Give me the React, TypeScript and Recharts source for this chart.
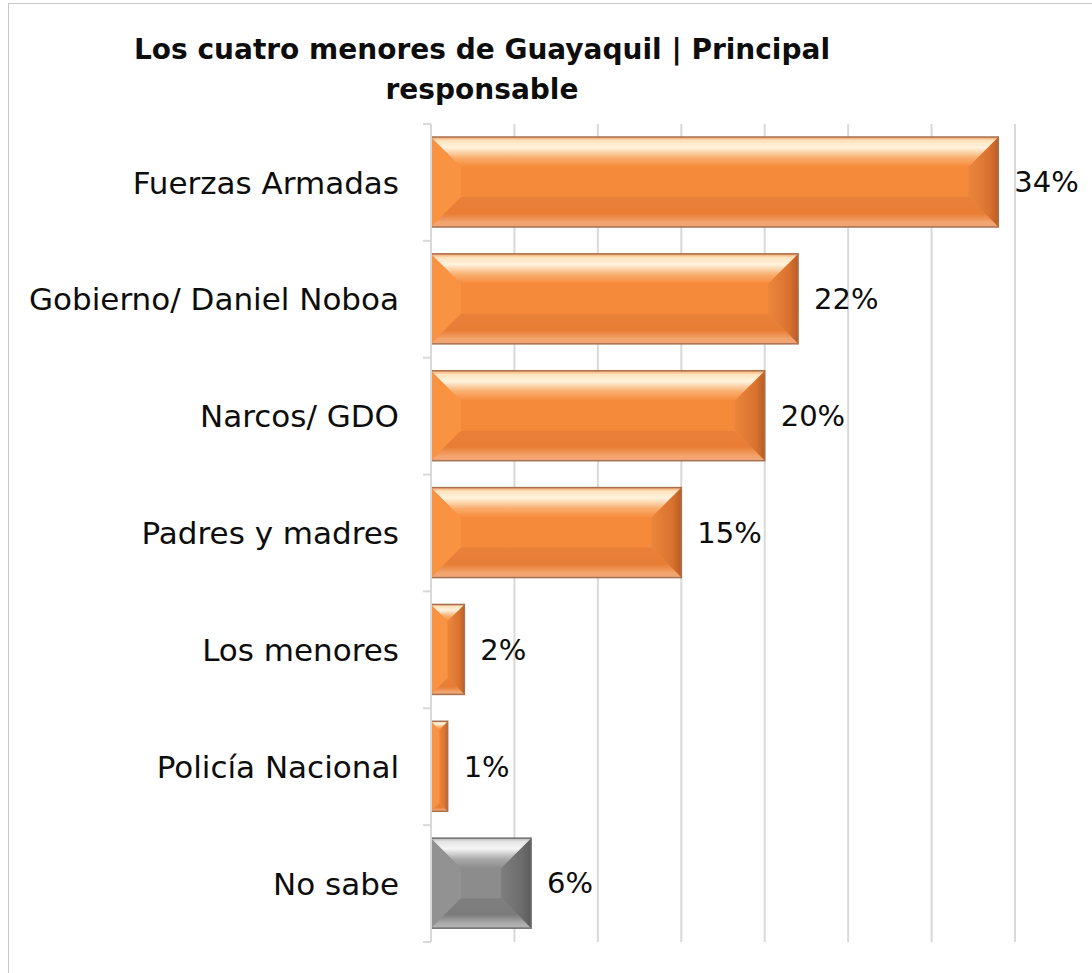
import React from 'react';
import { BarChart, Bar, XAxis, YAxis, CartesianGrid, LabelList } from 'recharts';

const categories = [
  'Fuerzas Armadas',
  'Gobierno/ Daniel Noboa',
  'Narcos/ GDO',
  'Padres y madres',
  'Los menores',
  'Policía Nacional',
  'No sabe ',
];
const values = [34, 22, 20, 15, 2, 1, 6];
const kinds = ['orange', 'orange', 'orange', 'orange', 'orange', 'orange', 'gray'];
const xTicks = [0, 5, 10, 15, 20, 25, 30, 35];

const data = categories.map((name, i) => ({ name, value: values[i], kind: kinds[i] }));

const W = 1092;
const H = 973;
const MARGIN = { top: 124, right: 77, bottom: 31, left: 0 };
const PLOT_H = H - MARGIN.top - MARGIN.bottom;
const FONT = '"DejaVu Sans", sans-serif';
const GRID = '#d9d9d9';

const palettes: Record<string, any> = {
  orange: { face: '#f68a3b', left: '#f99241', stroke: '#a87150' },
  gray: { face: '#8c8c8c', left: '#929292', stroke: '#6f6f6f' },
};

const BevelBar = (props: any) => {
  const { x, y, width, height, payload } = props;
  if (!width || width <= 0) return null;
  const k = payload.kind;
  const p = palettes[k];
  const d = Math.min(30, width / 2, height / 2);
  const r = x + width;
  const b = y + height;
  return (
    <g>
      <rect x={x} y={y} width={width} height={height} fill={p.face} />
      <polygon points={`${x},${y} ${x + d},${y + d} ${x + d},${b - d} ${x},${b}`} fill={p.left} />
      <polygon points={`${r},${y} ${r},${b} ${r - d},${b - d} ${r - d},${y + d}`} fill={`url(#right-${k})`} />
      <polygon points={`${x},${y} ${r},${y} ${r - d},${y + d} ${x + d},${y + d}`} fill={`url(#top-${k})`} />
      <polygon points={`${x + d},${b - d} ${r - d},${b - d} ${r},${b} ${x},${b}`} fill={`url(#bottom-${k})`} />
      <rect x={x} y={y} width={width} height={height} fill="none" stroke={p.stroke} strokeWidth={1.5} />
    </g>
  );
};

const CategoryTick = (props: any) => {
  const { x, y, payload, index } = props;
  const band = PLOT_H / categories.length;
  return (
    <g>
      <line x1={x - 8} x2={x} y1={y - band / 2} y2={y - band / 2} stroke={GRID} strokeWidth={2} />
      {index === categories.length - 1 && (
        <line x1={x - 8} x2={x} y1={y + band / 2} y2={y + band / 2} stroke={GRID} strokeWidth={2} />
      )}
      <text x={x - 32} y={y} dy="0.36em" textAnchor="end" fontFamily={FONT} fontSize={31} fill="#0d0d0d">
        {payload.value}
      </text>
    </g>
  );
};

export default function App() {
  return (
    <div style={{ position: 'absolute', left: 0, top: 0, width: W, height: H, overflow: 'hidden', background: '#fff' }}>
      <div
        style={{
          position: 'absolute',
          left: 8,
          top: 3,
          width: W,
          height: H + 20,
          border: '1.5px solid #c8c8c8',
          boxSizing: 'border-box',
        }}
      />
      <div
        style={{
          position: 'absolute',
          left: 0,
          top: 30,
          width: 964,
          textAlign: 'center',
          fontFamily: FONT,
          fontWeight: 'bold',
          fontSize: 28,
          lineHeight: '40px',
          color: '#0d0d0d',
        }}
      >
        Los cuatro menores de Guayaquil | Principal
        <br />
        responsable
      </div>
      <div style={{ position: 'absolute', left: 0, top: 0 }}>
        <BarChart width={W} height={H} data={data} layout="vertical" margin={MARGIN}>
          <defs>
            <linearGradient id="top-orange" x1="0" y1="0" x2="0" y2="1">
              <stop offset="0" stopColor="#f3a064" />
              <stop offset="0.12" stopColor="#fde3bd" />
              <stop offset="0.35" stopColor="#fff3dd" />
              <stop offset="0.7" stopColor="#f9ad6c" />
              <stop offset="1" stopColor="#f68a3b" />
            </linearGradient>
            <linearGradient id="bottom-orange" x1="0" y1="0" x2="0" y2="1">
              <stop offset="0" stopColor="#e9803a" />
              <stop offset="0.55" stopColor="#e87d35" />
              <stop offset="0.85" stopColor="#f3a56f" />
              <stop offset="1" stopColor="#efa577" />
            </linearGradient>
            <linearGradient id="right-orange" x1="0" y1="0" x2="1" y2="0">
              <stop offset="0" stopColor="#ec853c" />
              <stop offset="0.7" stopColor="#d9722f" />
              <stop offset="1" stopColor="#b95d25" />
            </linearGradient>
            <linearGradient id="top-gray" x1="0" y1="0" x2="0" y2="1">
              <stop offset="0" stopColor="#b5b5b5" />
              <stop offset="0.12" stopColor="#e6e6e6" />
              <stop offset="0.35" stopColor="#f5f5f5" />
              <stop offset="0.7" stopColor="#a9a9a9" />
              <stop offset="1" stopColor="#8c8c8c" />
            </linearGradient>
            <linearGradient id="bottom-gray" x1="0" y1="0" x2="0" y2="1">
              <stop offset="0" stopColor="#7f7f7f" />
              <stop offset="0.55" stopColor="#7b7b7b" />
              <stop offset="0.85" stopColor="#adadad" />
              <stop offset="1" stopColor="#b3b3b3" />
            </linearGradient>
            <linearGradient id="right-gray" x1="0" y1="0" x2="1" y2="0">
              <stop offset="0" stopColor="#7e7e7e" />
              <stop offset="0.7" stopColor="#6c6c6c" />
              <stop offset="1" stopColor="#5a5a5a" />
            </linearGradient>
          </defs>
          <CartesianGrid horizontal={false} stroke={GRID} strokeWidth={2} />
          <XAxis type="number" domain={[0, 35]} ticks={xTicks} hide />
          <YAxis
            type="category"
            dataKey="name"
            width={431}
            interval={0}
            tickSize={0}
            tickMargin={0}
            axisLine={{ stroke: GRID, strokeWidth: 2 }}
            tickLine={false}
            tick={<CategoryTick />}
          />
          <Bar dataKey="value" barSize={90} shape={<BevelBar />} isAnimationActive={false}>
            <LabelList
              dataKey="value"
              position="right"
              offset={16}
              formatter={(v: any) => `${v}%`}
              style={{ fontFamily: FONT, fontSize: 29, fill: '#0d0d0d' }}
            />
          </Bar>
        </BarChart>
      </div>
    </div>
  );
}
